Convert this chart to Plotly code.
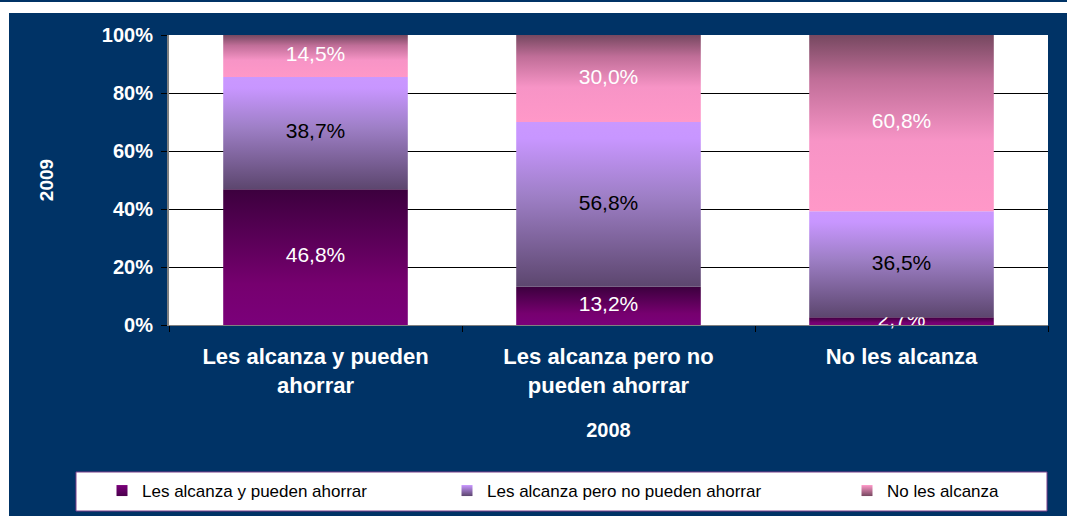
import plotly.graph_objects as go

# ---- data ----
categories = ["Les alcanza y pueden<br>ahorrar", "Les alcanza pero no<br>pueden ahorrar", "No les alcanza"]
series_names = ["Les alcanza y pueden ahorrar", "Les alcanza pero no pueden ahorrar", "No les alcanza"]
s_ahorran = [46.8, 13.2, 2.7]
s_no_ahorran = [38.7, 56.8, 36.5]
s_no_alcanza = [14.5, 30.0, 60.8]
y_ticks = [0, 20, 40, 60, 80, 100]
y_ticklabels = ["0%", "20%", "40%", "60%", "80%", "100%"]
x_title = "2008"
y_title = "2009"

series_values = [s_ahorran, s_no_ahorran, s_no_alcanza]

# ---- styles ----
NAVY = "#003366"
FONT = "Liberation Sans, Arial, sans-serif"
gradients = [
    [[0, "#7B007A"], [0.3, "#76006F"], [1, "#3C003E"]],
    [[0, "#5C466E"], [0.55, "#9E7FC6"], [0.9, "#C896FF"], [1, "#CA98FF"]],
    [[0, "#FF98C8"], [0.4, "#F794C6"], [0.75, "#C06E98"], [1, "#764860"]],
]
legend_grad = [("#7B007A", "#4A004C"), ("#C896FF", "#5C466E"), ("#FF98C8", "#764860")]
text_colors = ["white", "black", "white"]
BAR_W = 0.63

fig = go.Figure()

cum = [0.0] * len(categories)
for si, vals in enumerate(series_values):
    for ci, v in enumerate(vals):
        b = cum[ci]
        t = b + v
        x0, x1 = ci - BAR_W / 2, ci + BAR_W / 2
        fig.add_trace(go.Scatter(
            x=[x0, x1, x1, x0, x0], y=[b, b, t, t, b],
            mode="lines", fill="toself", line=dict(width=0),
            fillgradient=dict(type="vertical", colorscale=gradients[si]),
            showlegend=False, hoverinfo="skip",
        ))
    fig.add_trace(go.Scatter(
        x=list(range(len(categories))),
        y=[cum[ci] + v / 2 for ci, v in enumerate(vals)],
        text=[f"{v:.1f}".replace(".", ",") + "%" for v in vals],
        mode="text", textposition="middle center", cliponaxis=False,
        textfont=dict(family=FONT, size=21, color=text_colors[si]),
        showlegend=False, hoverinfo="skip",
    ))
    cum = [cum[ci] + v for ci, v in enumerate(vals)]

# legend entries, one legend each
legend_ids = ["legend", "legend2", "legend3"]
for si, name in enumerate(series_names):
    fig.add_trace(go.Scatter(
        x=[None], y=[None], mode="markers", name=name, legend=legend_ids[si],
        marker=dict(symbol="square", size=11, color=legend_grad[si][0],
                    gradient=dict(type="vertical", color=legend_grad[si][1])),
    ))

W, H = 1067, 516

def px(xp):
    return (xp - 169) / 879

def py(yp):
    return (325 - yp) / 290

shapes = [
    dict(type="rect", xref="paper", yref="paper", x0=px(-5), x1=px(1075), y0=py(13), y1=py(-5),
         fillcolor="white", line=dict(width=0), layer="above"),
    dict(type="rect", xref="paper", yref="paper", x0=px(-5), x1=px(9), y0=py(530), y1=py(-5),
         fillcolor="white", line=dict(width=0), layer="above"),
    dict(type="line", xref="paper", yref="paper", x0=px(0), x1=px(1067), y0=py(1), y1=py(1),
         line=dict(color=NAVY, width=2), layer="above"),
    dict(type="rect", xref="paper", yref="paper", x0=px(76), x1=px(1047), y0=py(472), y1=py(511),
         fillcolor="white", line=dict(color="#7A3F8A", width=1), layer="above"),
]

legend_x = [102, 447, 847]
leg_common = dict(orientation="h", xref="container", yref="container", xanchor="left",
                  y=1 - 491 / H, yanchor="middle", bgcolor="rgba(0,0,0,0)", borderwidth=0,
                  font=dict(family=FONT, size=17, color="black"))

fig.update_layout(
    width=W, height=H,
    margin=dict(l=169, r=19, t=35, b=191),
    paper_bgcolor=NAVY, plot_bgcolor="white",
    shapes=shapes,
    showlegend=True,
    legend=dict(x=legend_x[0] / W, **leg_common),
    legend2=dict(x=legend_x[1] / W, **leg_common),
    legend3=dict(x=legend_x[2] / W, **leg_common),
    xaxis=dict(range=[-0.5, 2.5], tickvals=list(range(len(categories))), ticktext=categories,
               ticks="", showgrid=False, zeroline=False, showline=True, linecolor="#808080", linewidth=1,
               tickfont=dict(family=FONT, size=22, color="white", weight="bold"),
               ticklabelstandoff=12,
               minor=dict(ticks="outside", tick0=0.5, dtick=1, ticklen=6, tickcolor="black", showgrid=False),
               title=dict(text=x_title, standoff=25,
                          font=dict(family=FONT, size=20, color="white", weight="bold"))),
    yaxis=dict(range=[0, 100], tickvals=y_ticks, ticktext=y_ticklabels,
               ticks="outside", ticklen=6, tickcolor="black",
               showgrid=True, gridcolor="black", gridwidth=1, zeroline=False,
               showline=True, linecolor="#808080", linewidth=2,
               ticklabelstandoff=4,
               tickfont=dict(family=FONT, size=20, color="white", weight="bold"),
               title=dict(text=y_title, standoff=43,
                          font=dict(family=FONT, size=19, color="white", weight="bold"))),
)

fig.write_html("out.html", config={"displayModeBar": False},
               post_script="document.body.style.margin='0';document.body.style.padding='0';")
